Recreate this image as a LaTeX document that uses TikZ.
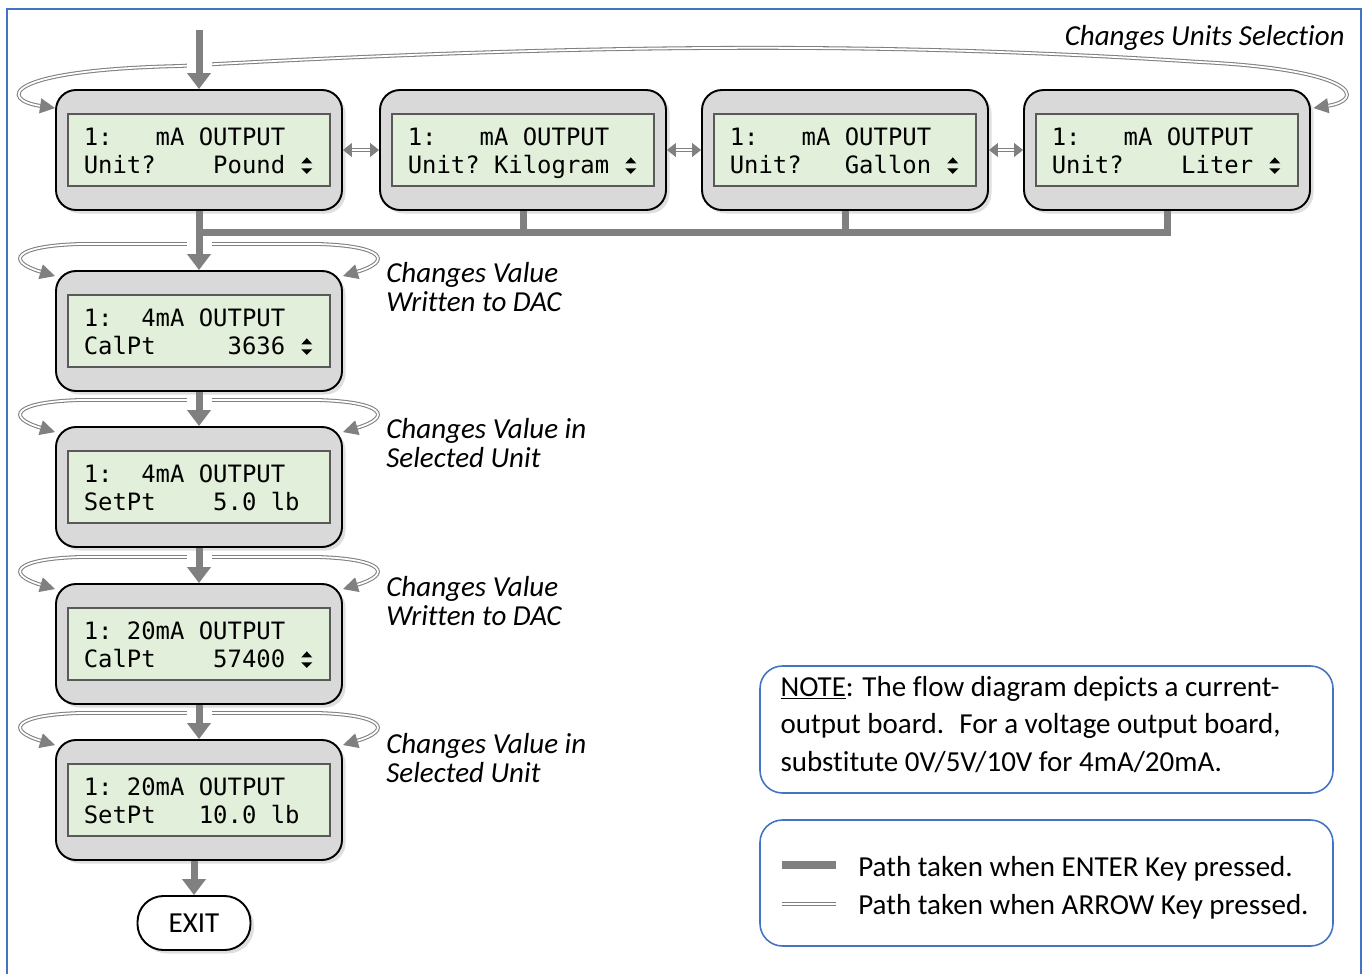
\documentclass[tikz,border=0pt]{standalone}
\usepackage{fontspec}
\setmainfont{Carlito}[Ligatures=NoCommon]
\setmonofont{DejaVu Sans Mono}
\usetikzlibrary{arrows.meta,shadows,backgrounds}

\definecolor{entergray}{RGB}{128,128,128}
\definecolor{panelgray}{RGB}{217,217,217}
\definecolor{lcdgreen}{RGB}{226,239,218}
\definecolor{frameblue}{RGB}{68,114,196}

\newcommand{\gap}[1]{\hspace*{#1\dimexpr0.602em\relax}}
\newcommand{\updn}{\makebox[0.288cm]{\tikz[baseline=0pt]{\fill (0,0.2) -- (0.22,0.2) -- (0.11,0.32) -- cycle; \fill (0,0.1) -- (0.22,0.1) -- (0.11,-0.01) -- cycle;}}}

\begin{document}
\begin{tikzpicture}[
    panel/.style={draw=black, line width=1.1pt, fill=panelgray, rounded corners=0.4cm,
        minimum width=5.72cm, minimum height=2.4cm,
        drop shadow={opacity=0.25, shadow xshift=0.07cm, shadow yshift=-0.07cm}},
    lcd/.style={draw=black!65, line width=0.6pt, fill=lcdgreen, minimum width=5.24cm,
        minimum height=1.44cm, text width=4.61cm, align=left, inner sep=0pt,
        font=\ttfamily\fontsize{13.6}{15.9}\selectfont,
        execute at begin node={\rule{0pt}{15.5pt}}, execute at end node=\strut},
    exitbox/.style={draw=black, line width=1.1pt, fill=white, rounded corners=0.52cm,
        minimum width=2.26cm, minimum height=1.08cm, font=\fontsize{16.5}{16.5}\selectfont,
        drop shadow={opacity=0.25, shadow xshift=0.07cm, shadow yshift=-0.07cm}},
    notebox/.style={draw=frameblue, line width=0.9pt, rounded corners=0.45cm, fill=white,
        minimum width=11.46cm},
    lbl/.style={font=\itshape\fontsize{16.5}{16.5}\selectfont, align=left, inner sep=0pt},
    txt/.style={font=\fontsize{16.5}{16.5}\selectfont, inner sep=0pt},
    enterline/.style={draw=entergray, line width=0.14cm},
    enter/.style={enterline, -{Triangle[width=0.46cm,length=0.32cm]},
        preaction={draw=white, line width=0.5cm, -}},
    arrowkey/.style={draw=entergray, line width=0.6pt, double=white, double distance=1pt,
        {Triangle[width=0.3cm,length=0.3cm]}-{Triangle[width=0.3cm,length=0.3cm]}},
    smalltips/.style={{Triangle[width=0.28cm,length=0.18cm]}-{Triangle[width=0.28cm,length=0.18cm]}}
]
\useasboundingbox (0,0) rectangle (27.24,-19.48);
\clip (0,0) rectangle (27.24,-19.48);
\draw[draw=frameblue, line width=0.05cm] (0.14,-0.18) rectangle (27.22,-20);

\node[panel] (u1) at (3.98,-3.00) {};
\node[lcd] (u1t) at (u1) {1:\gap{3}mA\gap{1}OUTPUT\\Unit?\gap{4}Pound\gap{1}\updn};
\node[panel] (u2) at (10.46,-3.00) {};
\node[lcd] (u2t) at (u2) {1:\gap{3}mA\gap{1}OUTPUT\\Unit?\gap{1}Kilogram\gap{1}\updn};
\node[panel] (u3) at (16.90,-3.00) {};
\node[lcd] (u3t) at (u3) {1:\gap{3}mA\gap{1}OUTPUT\\Unit?\gap{3}Gallon\gap{1}\updn};
\node[panel] (u4) at (23.34,-3.00) {};
\node[lcd] (u4t) at (u4) {1:\gap{3}mA\gap{1}OUTPUT\\Unit?\gap{4}Liter\gap{1}\updn};

\node[panel] (u5) at (3.98,-6.62) {};
\node[lcd] (u5t) at (u5) {1:\gap{2}4mA\gap{1}OUTPUT\\CalPt\gap{5}3636\gap{1}\updn};
\node[panel] (u6) at (3.98,-9.74) {};
\node[lcd] (u6t) at (u6) {1:\gap{2}4mA\gap{1}OUTPUT\\SetPt\gap{4}5.0\gap{1}lb};
\node[panel] (u7) at (3.98,-12.88) {};
\node[lcd] (u7t) at (u7) {1:\gap{1}20mA\gap{1}OUTPUT\\CalPt\gap{4}57400\gap{1}\updn};
\node[panel] (u8) at (3.98,-16.00) {};
\node[lcd] (u8t) at (u8) {1:\gap{1}20mA\gap{1}OUTPUT\\SetPt\gap{3}10.0\gap{1}lb};

\node[exitbox] (exit) at (3.88,-18.46) {EXIT};

\node[lbl, anchor=base east] (units) at (26.9,-0.9) {Changes Units Selection};
\node[lbl, anchor=base west] (dac1) at (7.72,-6.22) {Changes Value\\Written to DAC};
\node[lbl, anchor=base west] (sel1) at (7.72,-9.34) {Changes Value in\\Selected Unit};
\node[lbl, anchor=base west] (dac2) at (7.72,-12.50) {Changes Value\\Written to DAC};
\node[lbl, anchor=base west] (sel2) at (7.72,-15.64) {Changes Value in\\Selected Unit};

\node[notebox, minimum height=2.54cm] (note) at (20.93,-14.59) {};
\node[txt, align=left, anchor=west, font=\fontsize{16.5}{21.6}\selectfont] (notetext)
    at ([xshift=0.42cm,yshift=0.1cm]note.west)
    {\underline{NOTE}: The flow diagram depicts a current-\\output board.~ For a voltage output board,\\substitute 0V/5V/10V for 4mA/20mA.};

\node[notebox, minimum height=2.52cm] (legend) at (20.93,-17.66) {};
\node[txt, anchor=base west] (lgenter) at (17.16,-17.52) {Path taken when ENTER Key pressed.};
\node[txt, anchor=base west] (lgarrow) at (17.16,-18.28) {Path taken when ARROW Key pressed.};
\draw[enterline, line width=0.16cm] (15.64,-17.3) -- (16.72,-17.3);
\draw[arrowkey, -] (15.64,-18.08) -- (16.72,-18.08);

\begin{scope}[on background layer]
\coordinate (start) at (3.98,-0.6);
\coordinate (bus) at (3.98,-4.64);

\draw[arrowkey] ([yshift=-0.38cm]u1.north west) .. controls (0,-2.0) and (0,-1.4) .. (3.6,-1.32)
    .. controls (12,-0.85) and (18,-0.85) .. (24,-1.24)
    .. controls (27.2,-1.4) and (27.3,-2.0) .. ([xshift=0.05cm,yshift=-0.38cm]u4.north east);
\foreach \b in {u5,u6,u7,u8}
    \draw[arrowkey] ([yshift=-0.12cm]\b.north west) .. controls +(-1.0,0.3) and +(-1.3,-0.04) .. ([xshift=0.48cm,yshift=0.52cm]\b.north west)
        -- ([xshift=-0.48cm,yshift=0.52cm]\b.north east) .. controls +(1.3,-0.04) and +(1.0,0.3) .. ([yshift=-0.12cm]\b.north east);

\draw[arrowkey, smalltips] (u1) -- (u2);
\draw[arrowkey, smalltips] (u2) -- (u3);
\draw[arrowkey, smalltips] (u3) -- (u4);

\draw[enter] (start) -- (u1.north);
\draw[enter] (u1.south) -- (u5.north);
\draw[enter] (u5) -- (u6);
\draw[enter] (u6) -- (u7);
\draw[enter] (u7) -- (u8);
\draw[enter] (u8.south -| exit.north) -- (exit.north);

\draw[enterline] (u4.south) |- (bus);
\draw[enterline] (u2.south) -- (u2.south |- bus);
\draw[enterline] (u3.south) -- (u3.south |- bus);
\end{scope}
\end{tikzpicture}
\end{document}
